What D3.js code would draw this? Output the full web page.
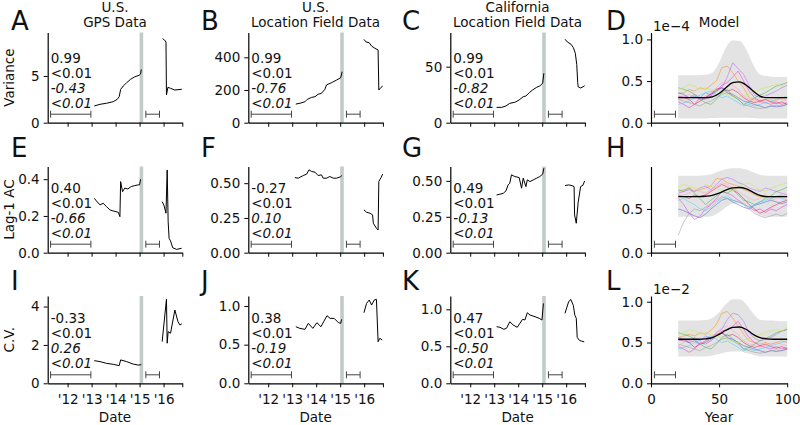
<!DOCTYPE html>
<html><head><meta charset="utf-8">
<script src="https://cdn.jsdelivr.net/npm/d3@7"></script>
<style>
body{margin:0;background:#fff}
svg{display:block}
text{font-family:"DejaVu Sans",sans-serif;fill:#111}
</style>
</head><body>
<svg id="chart" width="800" height="425"></svg>
<script>
// ---------------- DATA ----------------
const colTitles1 = ["U.S.", "U.S.", "California", ""];
const colTitles2 = ["GPS Data", "Location Field Data", "Location Field Data", "Model"];
const rowLabels = ["Variance", "Lag-1 AC", "C.V."];
const letters = [["A","B","C","D"],["E","F","G","H"],["I","J","K","L"]];
const yearTicks = [2012, 2013, 2014, 2015, 2016];
const yearTickLabels = ["'12", "'13", "'14", "'15", "'16"];
const modelTicks = [0, 50, 100];
const shutdownBand = [2015.0, 2015.15];
const windowBar1 = [2011.29, 2012.97];
const windowBar2 = [2015.26, 2015.83];
const modelWindowBar = [2.5, 18];

// Variance
const varGPS1 = [[2013.11,1.79],[2013.35,1.97],[2013.62,2.08],[2013.9,2.25],[2014.07,2.5],[2014.15,2.78],[2014.21,3.57],[2014.32,3.93],[2014.46,4.28],[2014.62,4.64],[2014.8,4.92],[2014.98,5.07],[2015.04,5.21],[2015.07,5.7]];
const varGPS2 = [[2015.96,9.0],[2016.04,8.85],[2016.1,8.64],[2016.12,2.97],[2016.18,3.79],[2016.29,3.68],[2016.47,3.5],[2016.76,3.58]];
const varUS1 = [[2013.15,114],[2013.32,119],[2013.53,128],[2013.63,143],[2013.81,155],[2013.95,159],[2014.08,174],[2014.22,180],[2014.36,204],[2014.43,231],[2014.64,245],[2014.85,261],[2015.02,275],[2015.08,312]];
const varUS2 = [[2015.99,510],[2016.07,495],[2016.21,489],[2016.31,469],[2016.45,455],[2016.58,445],[2016.61,200],[2016.7,216],[2016.77,224]];
const varCA1 = [[2013.1,13.7],[2013.31,13.7],[2013.49,14.9],[2013.65,17.3],[2013.86,18.2],[2014.04,20.3],[2014.21,23.2],[2014.32,23.8],[2014.46,26.8],[2014.6,29.2],[2014.77,31.6],[2014.9,32.8],[2015.02,35.2],[2015.07,44.1]];
const varCA2 = [[2015.95,74.5],[2016.05,72],[2016.2,70],[2016.3,67],[2016.38,62],[2016.44,52],[2016.48,36],[2016.5,32],[2016.6,31],[2016.7,32],[2016.77,33]];
// Lag-1 autocorrelation
const acGPS1 = [[2013.11,0.296],[2013.2,0.282],[2013.35,0.26],[2013.48,0.269],[2013.62,0.251],[2013.76,0.233],[2013.9,0.227],[2014.11,0.22],[2014.18,0.196],[2014.21,0.387],[2014.29,0.332],[2014.38,0.351],[2014.51,0.347],[2014.65,0.36],[2014.8,0.365],[2014.94,0.369],[2015.0,0.369],[2015.04,0.40]];
const acGPS2 = [[2015.94,0.278],[2016.01,0.26],[2016.1,0.215],[2016.15,0.45],[2016.19,0.169],[2016.23,0.078],[2016.29,0.064],[2016.38,0.027],[2016.54,0.018],[2016.75,0.024]];
const acUS1 = [[2013.11,0.54],[2013.25,0.536],[2013.46,0.555],[2013.6,0.565],[2013.7,0.596],[2013.81,0.584],[2013.95,0.579],[2014.08,0.555],[2014.22,0.56],[2014.29,0.536],[2014.43,0.536],[2014.57,0.548],[2014.71,0.536],[2014.85,0.536],[2015.0,0.545],[2015.07,0.555]];
const acUS2 = [[2015.99,0.308],[2016.1,0.291],[2016.24,0.284],[2016.35,0.272],[2016.38,0.212],[2016.51,0.176],[2016.58,0.163],[2016.61,0.512],[2016.7,0.54],[2016.77,0.565]];
const acCA1 = [[2013.1,0.402],[2013.24,0.407],[2013.38,0.414],[2013.49,0.43],[2013.58,0.472],[2013.65,0.484],[2013.72,0.542],[2013.86,0.53],[2014.04,0.523],[2014.14,0.449],[2014.21,0.519],[2014.32,0.46],[2014.38,0.507],[2014.49,0.495],[2014.63,0.507],[2014.77,0.519],[2014.9,0.53],[2015.02,0.547],[2015.07,0.588]];
const acCA2 = [[2015.95,0.467],[2016.1,0.472],[2016.24,0.467],[2016.33,0.46],[2016.35,0.263],[2016.42,0.205],[2016.5,0.35],[2016.6,0.46],[2016.7,0.47],[2016.77,0.5]];
// Coefficient of variation
const cvGPS1 = [[2013.11,1.18],[2013.35,1.13],[2013.62,1.04],[2013.9,0.99],[2014.15,0.92],[2014.21,1.22],[2014.46,1.13],[2014.74,1.0],[2014.94,0.95],[2015.07,0.97]];
const cvGPS2 = [[2015.94,2.17],[2016.12,4.38],[2016.15,2.09],[2016.19,2.69],[2016.29,2.61],[2016.47,3.82],[2016.6,3.21],[2016.68,3.04],[2016.76,3.1]];
const cvUS1 = [[2013.15,0.732],[2013.32,0.711],[2013.53,0.698],[2013.67,0.776],[2013.86,0.711],[2014.03,0.784],[2014.2,0.732],[2014.31,0.797],[2014.45,0.875],[2014.58,0.84],[2014.75,0.84],[2014.93,0.784],[2015.02,0.776],[2015.06,0.828]];
const cvUS2 = [[2015.99,0.913],[2016.1,1.035],[2016.21,1.078],[2016.31,1.013],[2016.42,1.078],[2016.51,1.087],[2016.58,0.538],[2016.65,0.582],[2016.75,0.56]];
const cvCA1 = [[2013.1,0.765],[2013.24,0.757],[2013.4,0.73],[2013.51,0.743],[2013.65,0.832],[2013.79,0.788],[2013.96,0.757],[2014.07,0.811],[2014.18,0.865],[2014.28,0.856],[2014.38,0.954],[2014.49,0.923],[2014.7,0.9],[2014.88,0.878],[2014.99,0.855],[2015.05,1.08]];
const cvCA2 = [[2015.95,0.946],[2016.1,1.10],[2016.19,1.135],[2016.3,1.05],[2016.36,0.92],[2016.42,0.88],[2016.46,0.62],[2016.55,0.58],[2016.65,0.57],[2016.75,0.56]];

// statistics text (Kendall tau, p; italic: tau, p)
const statsA = ["0.99","<0.01","-0.43","<0.01"];
const statsB = ["0.99","<0.01","-0.76","<0.01"];
const statsC = ["0.99","<0.01","-0.82","<0.01"];
const statsE = ["0.40","<0.01","-0.66","<0.01"];
const statsF = ["-0.27","<0.01","0.10","<0.01"];
const statsG = ["0.49","<0.01","-0.13","<0.01"];
const statsI = ["-0.33","<0.01","0.26","<0.01"];
const statsJ = ["0.38","<0.01","-0.19","<0.01"];
const statsK = ["0.47","<0.01","-0.50","<0.01"];

// Model panels
const modelYears = [20,24,28,32,36,40,44,48,52,56,60,64,68,72,76,80,84,88,92,96,100];
const envYears = [20,25,30,35,40,45,50,55,60,65,70,75,80,85,90,95,100];
const modelColors = ["#ff8c1a","#b266ff","#f032e6","#e6194b","#3cb44b","#42d4f4","#4363d8","#bfef45","#999999","#ff9fbf"];

const varUpper = [.57,.57,.57,.57,.575,.6,.72,.9,.99,.98,.88,.7,.58,.56,.55,.55,.55];
const varLower = [.05,.05,.05,.05,.05,.055,.06,.06,.06,.06,.06,.055,.05,.05,.05,.05,.05];
const varMean  = [.30,.30,.30,.30,.30,.31,.35,.42,.48,.49,.45,.38,.32,.30,.30,.30,.30];
const varRuns = [
 [.35,.36,.40,.38,.42,.40,.45,.50,.66,.68,.60,.50,.42,.30,.28,.26,.28,.25,.27,.30,.28],
 [.30,.32,.30,.34,.30,.36,.33,.40,.42,.55,.72,.65,.58,.45,.33,.30,.32,.35,.38,.42,.45],
 [.25,.22,.18,.22,.30,.28,.32,.38,.45,.48,.55,.62,.50,.38,.30,.26,.24,.22,.25,.22,.24],
 [.32,.30,.28,.22,.26,.30,.35,.40,.42,.38,.40,.36,.30,.26,.24,.26,.28,.25,.23,.25,.22],
 [.42,.40,.38,.34,.28,.24,.22,.28,.36,.40,.32,.28,.22,.25,.30,.33,.36,.40,.44,.46,.48],
 [.22,.24,.26,.30,.33,.36,.38,.34,.30,.32,.28,.24,.20,.22,.20,.22,.24,.26,.28,.30,.32],
 [.36,.34,.30,.32,.28,.30,.34,.38,.42,.36,.34,.30,.26,.24,.22,.20,.18,.20,.19,.20,.22],
 [.40,.42,.46,.44,.40,.42,.40,.38,.36,.34,.32,.30,.33,.35,.38,.40,.42,.44,.46,.44,.48],
 [.28,.26,.24,.22,.20,.24,.26,.30,.34,.36,.32,.28,.22,.20,.18,.17,.18,.20,.21,.20,.22],
 [.26,.30,.34,.30,.28,.32,.36,.42,.48,.50,.45,.40,.32,.28,.26,.24,.26,.28,.30,.28,.26]
];
const acUpper = [.88,.88,.88,.88,.885,.9,.93,.955,.965,.965,.95,.92,.89,.88,.88,.88,.88];
const acLower = [.41,.41,.41,.41,.41,.42,.46,.52,.56,.565,.54,.48,.43,.41,.41,.41,.41];
const acMean  = [.64,.64,.64,.64,.645,.655,.68,.715,.74,.745,.73,.69,.655,.64,.64,.64,.64];
const acRuns = [
 [.70,.72,.74,.70,.72,.74,.76,.85,.84,.80,.78,.76,.72,.70,.66,.64,.66,.62,.64,.66,.62],
 [.68,.70,.72,.70,.74,.76,.72,.78,.84,.86,.84,.80,.78,.74,.72,.70,.74,.72,.70,.68,.66],
 [.62,.55,.45,.38,.42,.50,.55,.62,.70,.68,.65,.60,.56,.52,.48,.50,.46,.50,.48,.52,.55],
 [.66,.64,.62,.66,.64,.66,.70,.74,.78,.75,.72,.68,.62,.55,.50,.45,.48,.52,.55,.58,.60],
 [.72,.70,.74,.68,.62,.55,.60,.65,.70,.68,.72,.66,.60,.58,.55,.58,.62,.65,.70,.72,.75],
 [.60,.62,.58,.55,.50,.48,.52,.58,.62,.65,.60,.58,.55,.52,.55,.58,.60,.62,.64,.62,.60],
 [.50,.48,.45,.42,.40,.44,.50,.55,.60,.62,.58,.55,.52,.50,.54,.56,.58,.60,.58,.56,.58],
 [.75,.78,.76,.74,.72,.78,.76,.74,.70,.72,.70,.75,.78,.80,.76,.72,.70,.74,.76,.78,.80],
 [.20,.35,.45,.50,.48,.52,.56,.60,.64,.62,.60,.58,.55,.50,.45,.42,.40,.42,.44,.42,.45],
 [.64,.66,.68,.72,.70,.68,.72,.76,.80,.78,.74,.70,.66,.62,.60,.62,.64,.60,.62,.64,.66]
];
const cvUpper = [.77,.77,.77,.77,.775,.8,.87,.97,1.03,1.03,.97,.86,.78,.77,.77,.76,.76];
const cvLower = [.33,.33,.33,.33,.33,.34,.36,.38,.39,.39,.37,.35,.33,.33,.33,.33,.33];
const cvMean  = [.54,.54,.54,.54,.545,.56,.6,.65,.685,.69,.66,.6,.56,.545,.54,.54,.54];
const cvRuns = [
 [.56,.58,.60,.58,.62,.60,.65,.72,.86,.88,.80,.70,.60,.52,.50,.48,.50,.48,.50,.52,.50],
 [.52,.54,.52,.56,.52,.58,.55,.62,.66,.78,.86,.84,.76,.62,.55,.52,.54,.56,.60,.64,.66],
 [.45,.42,.38,.42,.50,.48,.52,.58,.64,.66,.70,.76,.66,.56,.50,.46,.44,.42,.45,.42,.44],
 [.54,.52,.50,.44,.48,.52,.56,.60,.62,.58,.60,.56,.50,.46,.44,.46,.48,.45,.43,.45,.42],
 [.62,.60,.58,.54,.48,.44,.42,.48,.56,.60,.54,.50,.42,.44,.48,.52,.55,.58,.62,.64,.66],
 [.42,.44,.46,.50,.53,.56,.58,.54,.50,.52,.48,.44,.40,.42,.40,.42,.44,.46,.48,.50,.52],
 [.56,.54,.50,.52,.48,.50,.54,.58,.62,.56,.54,.50,.46,.44,.42,.40,.38,.40,.39,.40,.42],
 [.60,.62,.66,.64,.60,.62,.60,.58,.56,.54,.52,.50,.53,.55,.58,.60,.62,.64,.66,.64,.68],
 [.48,.46,.44,.42,.40,.44,.46,.50,.54,.56,.52,.48,.42,.40,.38,.37,.38,.40,.41,.40,.42],
 [.46,.50,.54,.50,.48,.52,.56,.62,.68,.70,.65,.60,.52,.48,.46,.44,.46,.48,.50,.48,.46]
];

// ---------------- LAYOUT ----------------
const svg = d3.select("#chart");
const colX = [47.7, 248.3, 450.3, 651];
const dataW = 134.6, modelW = 136.2;
const rowTop = [32.5, 166.5, 296], rowBot = [122.7, 252.7, 383.3];
const dateDomain = [2011.17, 2016.78];
const FS = 13.5;

const dataPanels = [
  {r:0,c:0,max:9.66,ticks:[0,5],fmt:"d",segs:[varGPS1,varGPS2],stats:statsA},
  {r:0,c:1,max:552,ticks:[0,200,400],fmt:"d",segs:[varUS1,varUS2],stats:statsB},
  {r:0,c:2,max:80.5,ticks:[0,50],fmt:"d",segs:[varCA1,varCA2],stats:statsC},
  {r:1,c:0,max:0.469,ticks:[0,0.2,0.4],fmt:".1f",segs:[acGPS1,acGPS2],stats:statsE},
  {r:1,c:1,max:0.62,ticks:[0,0.25,0.5],fmt:".2f",segs:[acUS1,acUS2],stats:statsF},
  {r:1,c:2,max:0.60,ticks:[0,0.25,0.5],fmt:".2f",segs:[acCA1,acCA2],stats:statsG},
  {r:2,c:0,max:4.55,ticks:[0,2,4],fmt:"d",segs:[cvGPS1,cvGPS2],stats:statsI},
  {r:2,c:1,max:1.13,ticks:[0,0.5,1],fmt:".1f",segs:[cvUS1,cvUS2],stats:statsJ},
  {r:2,c:2,max:1.18,ticks:[0,0.5,1],fmt:".1f",segs:[cvCA1,cvCA2],stats:statsK}
];
const modelPanels = [
  {r:0,max:1.083,ticks:[0,0.5,1],up:varUpper,lo:varLower,mean:varMean,runs:varRuns,exp:"1e\u22124"},
  {r:1,max:0.985,ticks:[0,0.5],up:acUpper,lo:acLower,mean:acMean,runs:acRuns,exp:null},
  {r:2,max:1.07,ticks:[0,0.5,1],up:cvUpper,lo:cvLower,mean:cvMean,runs:cvRuns,exp:"1e\u22122"}
];

function styleAxis(g){
  g.select(".domain").attr("stroke","#000").attr("stroke-width",1.2);
  g.selectAll(".tick line").attr("stroke","#000").attr("stroke-width",1);
  g.selectAll(".tick text").attr("font-size",FS).attr("font-family","DejaVu Sans").attr("fill","#111");
}

function drawScaleBar(g, x, y0, a, b){
  const yb = y0 - 8.5;
  g.append("line").attr("x1",x(a)).attr("x2",x(b)).attr("y1",yb).attr("y2",yb).attr("stroke","#444").attr("stroke-width",1);
  [a,b].forEach(v=>g.append("line").attr("x1",x(v)).attr("x2",x(v)).attr("y1",yb-3.5).attr("y2",yb+3.5).attr("stroke","#444").attr("stroke-width",1));
}

// data panels
dataPanels.forEach(p=>{
  const x0 = colX[p.c], top = rowTop[p.r], bot = rowBot[p.r];
  const x = d3.scaleLinear().domain(dateDomain).range([x0, x0+dataW]);
  const y = d3.scaleLinear().domain([0,p.max]).range([bot, top]);
  const g = svg.append("g");
  g.append("rect").attr("x",x(shutdownBand[0])).attr("width",x(shutdownBand[1])-x(shutdownBand[0]))
    .attr("y",top).attr("height",bot-top).attr("fill","#c3cbc7");
  const line = d3.line().x(d=>x(d[0])).y(d=>y(d[1]));
  p.segs.forEach(s=>g.append("path").attr("d",line(s)).attr("fill","none").attr("stroke","#000").attr("stroke-width",1));
  drawScaleBar(g, x, bot, windowBar1[0], windowBar1[1]);
  drawScaleBar(g, x, bot, windowBar2[0], windowBar2[1]);
  const offs = [-65,-50,-35,-20];
  p.stats.forEach((t,i)=>{
    g.append("text").attr("x",x0+3).attr("y",bot+offs[i]+5).attr("font-size",FS)
      .attr("font-style", i>=2 ? "italic" : "normal").text(t);
  });
  const ax = g.append("g").attr("transform",`translate(0,${bot})`)
    .call(d3.axisBottom(x).tickValues(yearTicks.concat([dateDomain[1]])).tickSize(4).tickPadding(7).tickSizeOuter(0)
      .tickFormat((d,i)=> i<yearTickLabels.length ? yearTickLabels[i] : ""));
  styleAxis(ax);
  if(p.r<2) ax.selectAll(".tick text").remove();
  const ay = g.append("g").attr("transform",`translate(${x0},0)`)
    .call(d3.axisLeft(y).tickValues(p.ticks).tickSize(4).tickPadding(4).tickSizeOuter(0).tickFormat(d3.format(p.fmt)));
  styleAxis(ay);
});

// model panels
modelPanels.forEach(p=>{
  const x0 = colX[3], top = rowTop[p.r], bot = rowBot[p.r];
  const x = d3.scaleLinear().domain([0,100]).range([x0, x0+modelW]);
  const y = d3.scaleLinear().domain([0,p.max]).range([bot, top]);
  const g = svg.append("g");
  const area = d3.area().x((d,i)=>x(envYears[i])).y0((d,i)=>y(p.lo[i])).y1(d=>y(d)).curve(d3.curveMonotoneX);
  g.append("path").attr("d",area(p.up)).attr("fill","#e3e3e3");
  const runLine = d3.line().x((d,i)=>x(modelYears[i])).y(d=>y(d));
  p.runs.forEach((r,k)=>g.append("path").attr("d",runLine(r)).attr("fill","none")
     .attr("stroke",modelColors[k]).attr("stroke-width",0.9).attr("stroke-opacity",0.6));
  const meanLine = d3.line().x((d,i)=>x(envYears[i])).y(d=>y(d)).curve(d3.curveMonotoneX);
  g.append("path").attr("d",meanLine(p.mean)).attr("fill","none").attr("stroke","#000").attr("stroke-width",1.3);
  drawScaleBar(g, x, bot, modelWindowBar[0], modelWindowBar[1]);
  const ax = g.append("g").attr("transform",`translate(0,${bot})`)
    .call(d3.axisBottom(x).tickValues(modelTicks).tickSize(4).tickPadding(7).tickSizeOuter(0));
  styleAxis(ax);
  if(p.r<2) ax.selectAll(".tick text").remove();
  else ax.selectAll(".tick text").filter(d=>d===100).attr("text-anchor","end").attr("dx","0.95em");
  const ay = g.append("g").attr("transform",`translate(${x0},0)`)
    .call(d3.axisLeft(y).tickValues(p.ticks).tickSize(4).tickPadding(4).tickSizeOuter(0).tickFormat(d3.format(".1f")));
  styleAxis(ay);
  if(p.exp) g.append("text").attr("x",x0+2).attr("y",top-2).attr("font-size",FS).text(p.exp);
});

// titles
const colCenters = colX.map((c,i)=> c + (i<3?dataW:modelW)/2);
colCenters.forEach((cx,i)=>{
  if(colTitles1[i]) svg.append("text").attr("x",cx).attr("y",12).attr("text-anchor","middle").attr("font-size",FS).text(colTitles1[i]);
  svg.append("text").attr("x",cx).attr("y",26.5).attr("text-anchor","middle").attr("font-size",FS).text(colTitles2[i]);
});
// panel letters
const letterX = [11, 201, 402, 606];
const letterY = [30, 157, 290];
letters.forEach((row,r)=>row.forEach((L,c)=>{
  svg.append("text").attr("x",letterX[c]).attr("y",letterY[r]).attr("font-size",26).text(L);
}));
// row labels
rowLabels.forEach((t,r)=>{
  const cy = (rowTop[r]+rowBot[r])/2;
  svg.append("text").attr("transform",`translate(13.5,${cy}) rotate(-90)`).attr("text-anchor","middle").attr("font-size",FS).text(t);
});
// x labels
colCenters.forEach((cx,i)=>{
  svg.append("text").attr("x",cx).attr("y",422).attr("text-anchor","middle").attr("font-size",FS).text(i<3?"Date":"Year");
});
</script>
</body></html>
